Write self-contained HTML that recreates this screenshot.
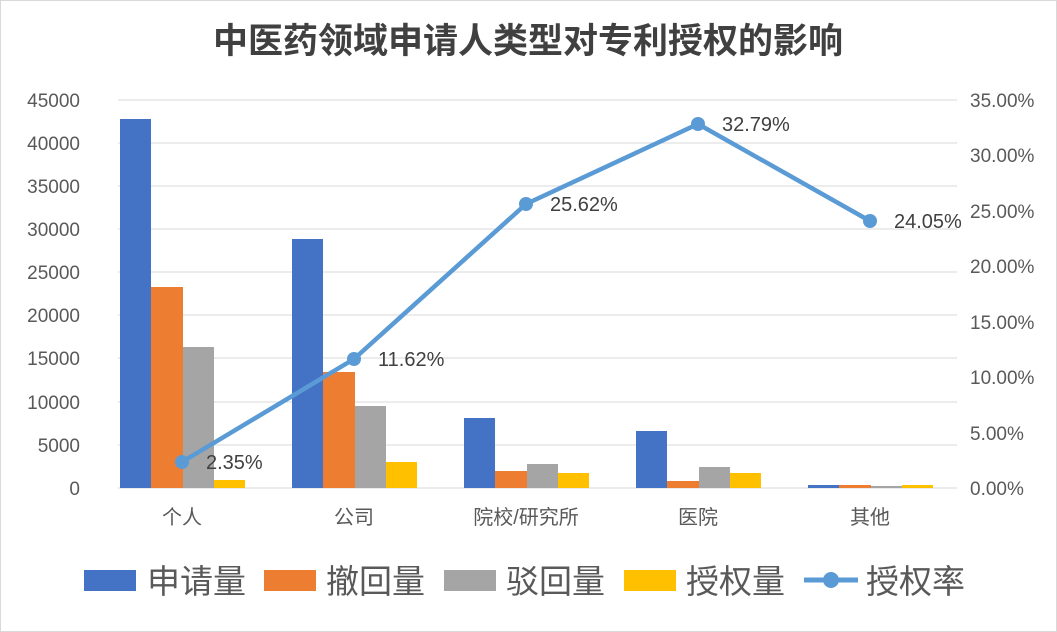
<!DOCTYPE html>
<html><head><meta charset="utf-8"><style>body{margin:0;background:#fff}svg{display:block}</style></head><body>
<svg width="1057" height="632" xmlns="http://www.w3.org/2000/svg" font-family="Liberation Sans, Noto Sans CJK SC, sans-serif">
<rect x="0.5" y="0.5" width="1056" height="631" fill="#fff" stroke="#d9d9d9"/>
<text x="528" y="53" text-anchor="middle" font-size="35" font-weight="bold" fill="#404040">中医药领域申请人类型对专利授权的影响</text>
<g stroke="#d9d9d9" stroke-width="1">
<line x1="118" x2="957" y1="100" y2="100"/><line x1="118" x2="957" y1="143" y2="143"/><line x1="118" x2="957" y1="186" y2="186"/><line x1="118" x2="957" y1="229" y2="229"/><line x1="118" x2="957" y1="272" y2="272"/><line x1="118" x2="957" y1="315" y2="315"/><line x1="118" x2="957" y1="358" y2="358"/><line x1="118" x2="957" y1="402" y2="402"/><line x1="118" x2="957" y1="445" y2="445"/><line x1="118" x2="957" y1="488" y2="488"/>
</g>
<g font-size="19" fill="#595959" text-anchor="end">
<text x="80" y="107">45000</text><text x="80" y="150">40000</text><text x="80" y="193">35000</text><text x="80" y="236">30000</text><text x="80" y="279">25000</text><text x="80" y="322">20000</text><text x="80" y="365">15000</text><text x="80" y="409">10000</text><text x="80" y="452">5000</text><text x="80" y="495">0</text>
</g>
<g font-size="19" fill="#595959" text-anchor="start">
<text x="970" y="107">35.00%</text><text x="970" y="162">30.00%</text><text x="970" y="218">25.00%</text><text x="970" y="273">20.00%</text><text x="970" y="329">15.00%</text><text x="970" y="384">10.00%</text><text x="970" y="440">5.00%</text><text x="970" y="495">0.00%</text>
</g>
<g>
<rect x="120" y="119" width="31" height="369" fill="#4472c4"/><rect x="151" y="287" width="32" height="201" fill="#ed7d31"/><rect x="183" y="347" width="31" height="141" fill="#a5a5a5"/><rect x="214" y="480" width="31" height="8" fill="#ffc000"/>
<rect x="292" y="239" width="31" height="249" fill="#4472c4"/><rect x="323" y="372" width="32" height="116" fill="#ed7d31"/><rect x="355" y="406" width="31" height="82" fill="#a5a5a5"/><rect x="386" y="462" width="31" height="26" fill="#ffc000"/>
<rect x="464" y="418" width="31" height="70" fill="#4472c4"/><rect x="495" y="471" width="32" height="17" fill="#ed7d31"/><rect x="527" y="464" width="31" height="24" fill="#a5a5a5"/><rect x="558" y="473" width="31" height="15" fill="#ffc000"/>
<rect x="636" y="431" width="31" height="57" fill="#4472c4"/><rect x="667" y="481" width="32" height="7" fill="#ed7d31"/><rect x="699" y="467" width="31" height="21" fill="#a5a5a5"/><rect x="730" y="473" width="31" height="15" fill="#ffc000"/>
<rect x="808" y="485" width="31" height="3" fill="#4472c4"/><rect x="839" y="485" width="32" height="3" fill="#ed7d31"/><rect x="871" y="486" width="31" height="2" fill="#a5a5a5"/><rect x="902" y="485" width="31" height="3" fill="#ffc000"/>
</g>
<polyline points="182,462 354,359 526,204 698,124 870,221" fill="none" stroke="#5b9bd5" stroke-width="4.5" stroke-linejoin="round"/>
<g fill="#5b9bd5"><circle cx="182" cy="462" r="7"/><circle cx="354" cy="359" r="7"/><circle cx="526" cy="204" r="7"/><circle cx="698" cy="124" r="7"/><circle cx="870" cy="221" r="7"/></g>
<g font-size="20" fill="#404040">
<text x="206" y="469">2.35%</text><text x="378" y="366">11.62%</text><text x="550" y="211">25.62%</text><text x="722" y="131">32.79%</text><text x="894" y="228">24.05%</text>
</g>
<g font-size="20" fill="#595959" text-anchor="middle">
<text x="182" y="524">个人</text><text x="354" y="524">公司</text><text x="526" y="524">院校/研究所</text><text x="698" y="524">医院</text><text x="870" y="524">其他</text>
</g>
<g font-size="33" fill="#595959">
<rect x="84" y="570" width="52" height="21" fill="#4472c4"/><text x="147" y="593">申请量</text>
<rect x="264" y="570" width="52" height="21" fill="#ed7d31"/><text x="326" y="593">撤回量</text>
<rect x="444" y="570" width="52" height="21" fill="#a5a5a5"/><text x="506" y="593">驳回量</text>
<rect x="624" y="570" width="52" height="21" fill="#ffc000"/><text x="686" y="593">授权量</text>
<line x1="804" x2="858" y1="580" y2="580" stroke="#5b9bd5" stroke-width="5"/><circle cx="831" cy="580" r="8" fill="#5b9bd5"/><text x="866" y="593">授权率</text>
</g>
</svg>
</body></html>
